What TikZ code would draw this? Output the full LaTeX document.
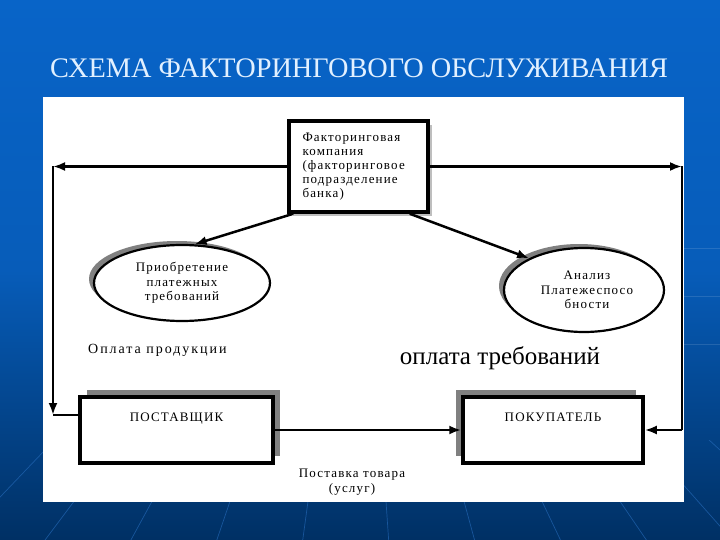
\documentclass[tikz,border=0pt]{standalone}
\usepackage{fontspec}
\setmainfont{Liberation Serif}
\newfontfamily\spaced[LetterSpace=9]{Liberation Serif}
\newfontfamily\spacedwide[LetterSpace=14]{Liberation Serif}
\usetikzlibrary{arrows.meta,shapes.geometric,shadows}
\definecolor{bgtop}{RGB}{8,100,200}
\definecolor{bgbot}{RGB}{0,48,100}
\definecolor{fanline}{RGB}{40,110,190}
\definecolor{titlecol}{RGB}{225,240,255}
\definecolor{shadowdark}{RGB}{128,128,128}
\definecolor{shadowlight}{RGB}{190,190,190}
\tikzset{
  boxstyle/.style={draw=black, line width=3.5pt, fill=white, rectangle, inner sep=0pt},
  ellstyle/.style={draw=black, line width=2.2pt, fill=white, ellipse, inner sep=0pt, align=center,
     font=\spaced\fontsize{13}{14.5}\selectfont},
  conn/.style={line width=2.5pt, draw=black},
  arr/.style={conn, -{Latex[length=12pt,width=9pt]}},
  lbl/.style={font=\spaced\fontsize{13}{14.5}\selectfont, inner sep=0pt}
}
\begin{document}
\begin{tikzpicture}[x=1pt,y=-1pt]
\useasboundingbox (0,0) rectangle (720,540);
% background
\shade[top color=bgtop, bottom color=bgbot, middle color=bgtop!85!bgbot] (0,0) rectangle (720,540);
\begin{scope}
  \clip (0,440) rectangle (720,540);
  \foreach \bx in {-420,-330,...,1140}
    \draw[fanline, line width=0.7pt, opacity=0.6] (360,120) -- (\bx,560);
\end{scope}
\foreach \hy in {248,296,344}
  \draw[white, opacity=0.12, line width=1pt] (684,\hy) -- (720,\hy);
% title
\node[text=titlecol, font=\fontsize{28.3}{30}\selectfont, inner sep=0pt] (title) at (359,68) {СХЕМА ФАКТОРИНГОВОГО ОБСЛУЖИВАНИЯ};
% white panel
\fill[white] (43,97) rectangle (684,502);
% company box
\node[boxstyle, minimum width=139pt, minimum height=91pt, text width=112pt, align=left,
  font=\spaced\fontsize{13}{14}\selectfont,
  drop shadow={shadow xshift=4pt, shadow yshift=-4pt, fill=shadowlight, opacity=1}] (comp) at (358.5,166.5)
  {Факторинговая\\компания\\(факторинговое\\подразделение\\банка)};
% ellipses
\node[ellstyle, minimum width=176pt, minimum height=76pt,
  drop shadow={shadow xshift=-5pt, shadow yshift=4pt, fill=shadowdark, opacity=1}] (ell1) at (182,283)
  {Приобретение\\платежных\\требований};
\node[ellstyle, minimum width=160pt, minimum height=84pt,
  drop shadow={shadow xshift=-5pt, shadow yshift=4pt, fill=shadowdark, opacity=1}] (ell2) at (584,290)
  {\hspace*{6pt}Анализ\\\hspace*{6pt}Платежеспосо\\\hspace*{6pt}бности};
% bottom boxes
\node[boxstyle, minimum width=193pt, minimum height=66pt,
  drop shadow={shadow xshift=7pt, shadow yshift=7pt, fill=shadowdark, opacity=1},
  label={[lbl, anchor=north, label distance=-17pt]north:ПОСТАВЩИК}] (sup) at (176.5,430) {};
\node[boxstyle, minimum width=180pt, minimum height=66pt,
  drop shadow={shadow xshift=-7pt, shadow yshift=7pt, fill=shadowdark, opacity=1},
  label={[lbl, anchor=north, label distance=-17pt]north:ПОКУПАТЕЛЬ}] (buy) at (553,430) {};
% labels
\node[inner sep=0pt, anchor=west, font=\spacedwide\fontsize{14}{16}\selectfont] (lpay) at (88,350) {Оплата продукции};
\node[inner sep=0pt, font=\fontsize{25}{27}\selectfont] (rpay) at (500,358) {оплата требований};
\node[lbl, align=center] (deliv) at (352,482) {Поставка товара\\(услуг)};
% connector corners
\coordinate (cL1) at (53,166.5);
\coordinate (cL2) at (53,415);
\coordinate (cR1) at (682,166.5);
\coordinate (cR2) at (682,430);
% connectors
\draw[arr] ([xshift=6pt]comp.south west) -- (ell1.72);
\draw[arr] ([xshift=-20pt]comp.south east) -- (ell2.150);
\draw[arr] (comp.west) -- (cL1);
\draw[arr] (cL1) -- (cL2);
\draw[conn] (cL2) -- (sup.west |- cL2);
\draw[arr] (comp.east) -- (cR1);
\draw[conn] (cR1) -- (cR2);
\draw[arr] (cR2) -- (buy.east);
\draw[arr] (sup.east) -- (buy.west);
\end{tikzpicture}
\end{document}
